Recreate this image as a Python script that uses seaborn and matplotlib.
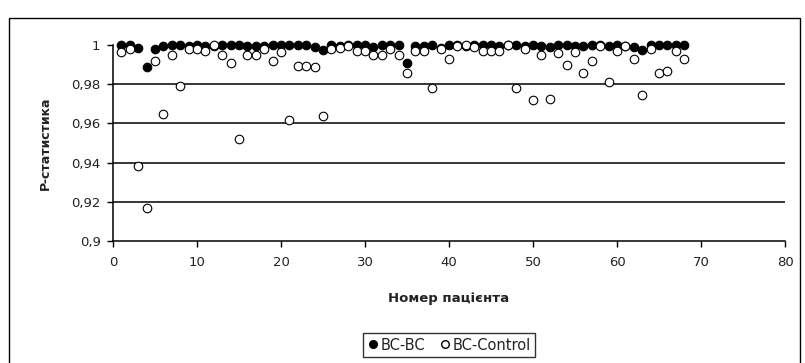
import numpy as np
import pandas as pd
import matplotlib
matplotlib.use("Agg")
import matplotlib.pyplot as plt
from matplotlib.patches import Rectangle
from matplotlib.lines import Line2D
from matplotlib.ticker import FuncFormatter
import seaborn as sns

# patient numbers 1..68
patients = list(range(1, 69))

bc_bc = [
    1.0, 1.0, 0.9985, 0.989, 0.998, 0.9995, 1.0, 1.0, 0.9995, 1.0,
    0.9995, 0.9995, 1.0, 1.0, 1.0, 0.9995, 0.9995, 0.9995, 1.0, 1.0,
    1.0, 1.0, 1.0, 0.999, 0.9975, 1.0, 0.9995, 1.0, 1.0, 1.0,
    0.999, 1.0, 1.0, 1.0, 0.991, 0.9995, 0.9995, 1.0, 0.9985, 1.0,
    1.0, 0.9995, 1.0, 1.0, 1.0, 0.9995, 1.0, 1.0, 0.9995, 1.0,
    0.9995, 0.999, 1.0, 1.0, 0.9995, 0.9995, 1.0, 1.0, 0.9995, 1.0,
    0.9995, 0.999, 0.9975, 1.0, 1.0, 1.0, 1.0, 1.0,
]

bc_control = [
    0.9965, 0.998, 0.9384, 0.9168, 0.992, 0.9646, 0.995, 0.979, 0.998, 0.998,
    0.997, 1.0, 0.995, 0.991, 0.952, 0.995, 0.995, 0.998, 0.9916, 0.9965,
    0.9616, 0.9895, 0.9895, 0.989, 0.964, 0.998, 0.9986, 0.9996, 0.997, 0.997,
    0.995, 0.995, 0.998, 0.995, 0.9857, 0.997, 0.997, 0.978, 0.998, 0.993,
    0.9996, 1.0, 0.999, 0.997, 0.997, 0.997, 1.0, 0.978, 0.998, 0.972,
    0.995, 0.9724, 0.996, 0.990, 0.9965, 0.9855, 0.992, 0.9995, 0.981, 0.997,
    0.9996, 0.993, 0.9747, 0.998, 0.9855, 0.9866, 0.997, 0.993,
]

series_names = ["BC-BC", "BC-Control"]

df = pd.concat([
    pd.DataFrame({"x": patients, "p": bc_bc, "series": series_names[0]}),
    pd.DataFrame({"x": patients, "p": bc_control, "series": series_names[1]}),
])

sns.set_style("white")
plt.rcParams["font.family"] = ["DejaVu Sans"]

fig = plt.figure(figsize=(8.05, 3.63), dpi=100)
ax = fig.add_axes([0.1404, 0.336, 0.8348, 0.540])

ax.set_xlim(0, 80)
ax.set_ylim(0.9, 1.0)
yticks = [0.9, 0.92, 0.94, 0.96, 0.98, 1.0]
# gridlines between the axis and the top value
for yv in yticks[1:-1]:
    ax.axhline(yv, color="black", lw=1.1, zorder=1)

sns.scatterplot(data=df[df.series == "BC-BC"], x="x", y="p", ax=ax,
                color="black", edgecolor="black", linewidth=0.8, s=38,
                marker="o", legend=False, zorder=3, clip_on=False)
sns.scatterplot(data=df[df.series == "BC-Control"], x="x", y="p", ax=ax,
                color="white", edgecolor="black", linewidth=0.8, s=38,
                marker="o", legend=False, zorder=4, clip_on=False)

ax.set_xticks(range(0, 81, 10))
ax.set_yticks(yticks)
ax.yaxis.set_major_formatter(FuncFormatter(
    lambda v, _: ("%g" % round(v, 2)).replace(".", ",")))
ax.tick_params(axis="both", direction="out", length=4, width=1,
               color="black", labelsize=9.5, labelcolor="#222222",
               bottom=True, left=True)
ax.tick_params(axis="x", pad=7)
ax.tick_params(axis="y", pad=5)

for side in ["top", "right"]:
    ax.spines[side].set_visible(False)
for side in ["left", "bottom"]:
    ax.spines[side].set_color("black")
    ax.spines[side].set_linewidth(1.1)

ax.set_xlabel("Номер пацієнта", fontsize=9.5, fontweight="bold",
              color="#222222", labelpad=16)
ax.set_ylabel("P-статистика", fontsize=9, fontweight="bold",
              color="#222222", labelpad=14)

# outer chart border
fig.patches.append(Rectangle((9 / 805, -0.05), 791 / 805, 1.05 - 18 / 363,
                             transform=fig.transFigure, fill=False,
                             edgecolor="black", lw=1.0))

handles = [
    Line2D([], [], marker="o", ls="", markerfacecolor="black",
           markeredgecolor="black", markersize=5.5),
    Line2D([], [], marker="o", ls="", markerfacecolor="white",
           markeredgecolor="black", markersize=5.5),
]
leg = fig.legend(handles, series_names, loc="center",
                 bbox_to_anchor=(449 / 805, 1 - 345 / 363), ncol=2,
                 fontsize=10.5, frameon=True, fancybox=False,
                 handletextpad=0.15, columnspacing=0.9, handlelength=0.8,
                 borderpad=0.3, borderaxespad=0)
leg.get_frame().set_edgecolor("black")
leg.get_frame().set_linewidth(1.0)
for t in leg.get_texts():
    t.set_color("#222222")

fig.savefig("out.png", dpi=100)
